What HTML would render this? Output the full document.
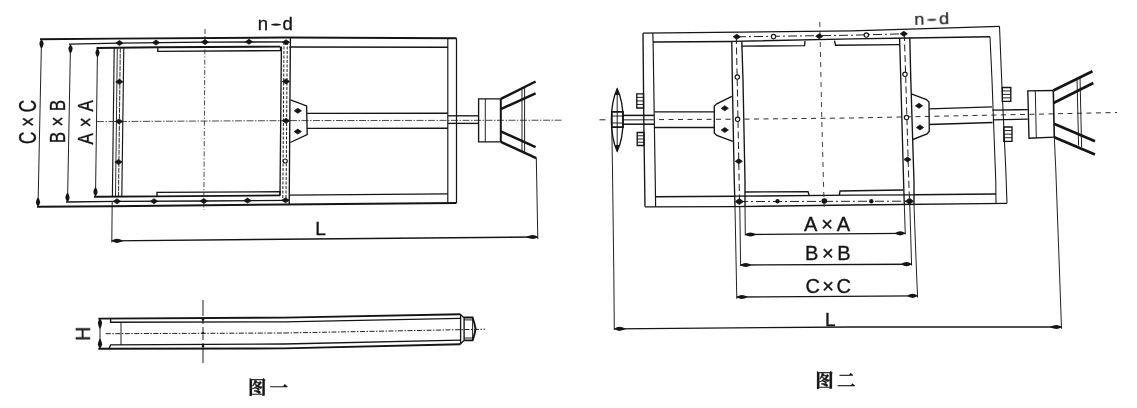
<!DOCTYPE html>
<html lang="zh"><head><meta charset="utf-8"><title>图一 图二</title>
<style>
html,body{margin:0;padding:0;background:#fff;}
body{width:1137px;height:408px;overflow:hidden;font-family:"Liberation Sans","Noto Sans CJK SC",sans-serif;}
svg{display:block;}
</style></head><body>
<svg width="1137" height="408" viewBox="0 0 1137 408">
<rect width="1137" height="408" fill="#fff"/>
<line x1="41.5" y1="39.3" x2="38" y2="206.7" stroke="#151515" stroke-width="0.95" stroke-linecap="butt"/>
<line x1="70.5" y1="44.3" x2="67.5" y2="202" stroke="#151515" stroke-width="0.95" stroke-linecap="butt"/>
<line x1="97.5" y1="48" x2="95.5" y2="196.6" stroke="#151515" stroke-width="0.95" stroke-linecap="butt"/>
<path d="M41.5,39.3 Q39.4,41.8 39.4,43.8 Q39.699999999999996,46.3 41.1,48.3 L41.9,48.3 Q43.300000000000004,46.3 43.6,43.8 Q43.6,41.8 41.5,39.3 Z" fill="#151515"/>
<path d="M38,206.7 Q35.9,204.2 35.9,202.2 Q36.199999999999996,199.7 37.6,197.7 L38.4,197.7 Q39.800000000000004,199.7 40.1,202.2 Q40.1,204.2 38,206.7 Z" fill="#151515"/>
<path d="M70.5,44.3 Q68.4,46.8 68.4,48.8 Q68.7,51.3 70.1,53.3 L70.9,53.3 Q72.3,51.3 72.6,48.8 Q72.6,46.8 70.5,44.3 Z" fill="#151515"/>
<path d="M67.5,202 Q65.4,199.5 65.4,197.5 Q65.7,195 67.1,193 L67.9,193 Q69.3,195 69.6,197.5 Q69.6,199.5 67.5,202 Z" fill="#151515"/>
<path d="M97.5,48 Q95.4,50.5 95.4,52.5 Q95.7,55 97.1,57 L97.9,57 Q99.3,55 99.6,52.5 Q99.6,50.5 97.5,48 Z" fill="#151515"/>
<path d="M95.5,196.6 Q93.4,194.1 93.4,192.1 Q93.7,189.6 95.1,187.6 L95.9,187.6 Q97.3,189.6 97.6,192.1 Q97.6,194.1 95.5,196.6 Z" fill="#151515"/>
<polyline points="40,39.3 114,38.6 284,37.5 456.5,38.2" fill="none" stroke="#151515" stroke-width="1.9" stroke-linejoin="miter"/>
<polyline points="69,44.2 119,43.1 205,42.2 289,41.8" fill="none" stroke="#151515" stroke-width="1.35" stroke-linejoin="miter"/>
<polyline points="96.5,48 157.8,47.3 280,46.6" fill="none" stroke="#151515" stroke-width="1.9" stroke-linejoin="miter"/>
<polyline points="157.8,47.3 157.8,51.3 280.5,50.6 280.5,46.6" fill="none" stroke="#151515" stroke-width="1.35" stroke-linejoin="miter"/>
<line x1="289.5" y1="47" x2="447.8" y2="47.2" stroke="#151515" stroke-width="1.35" stroke-linecap="butt"/>
<polyline points="37,206.7 112,206.2 284,204.5 456.5,203" fill="none" stroke="#151515" stroke-width="1.9" stroke-linejoin="miter"/>
<polyline points="66,202 117,201.3 204,201 289,200.3" fill="none" stroke="#151515" stroke-width="1.35" stroke-linejoin="miter"/>
<polyline points="94,196.7 157,196.4 280,195.4" fill="none" stroke="#151515" stroke-width="1.9" stroke-linejoin="miter"/>
<polyline points="157,196.4 157,192.3 280,191.8 280,195.4" fill="none" stroke="#151515" stroke-width="1.35" stroke-linejoin="miter"/>
<line x1="289.5" y1="195.2" x2="447.8" y2="193.8" stroke="#151515" stroke-width="1.35" stroke-linecap="butt"/>
<line x1="114.2" y1="47.8" x2="112.4" y2="196.6" stroke="#151515" stroke-width="1.15" stroke-linecap="butt"/>
<line x1="117.3" y1="47.8" x2="115.5" y2="196.6" stroke="#151515" stroke-width="0.9" stroke-linecap="butt"/>
<line x1="120.3" y1="47.8" x2="118.5" y2="196.6" stroke="#151515" stroke-width="0.9" stroke-dasharray="5 1" stroke-linecap="butt"/>
<line x1="123.8" y1="47.6" x2="121.8" y2="196.6" stroke="#151515" stroke-width="1.15" stroke-linecap="butt"/>
<line x1="281.4" y1="46.6" x2="280" y2="195.4" stroke="#151515" stroke-width="1.35" stroke-linecap="butt"/>
<line x1="284" y1="42" x2="282.8" y2="200.5" stroke="#151515" stroke-width="0.95" stroke-dasharray="3 1.5" stroke-linecap="butt"/>
<line x1="287.3" y1="42" x2="286" y2="200.5" stroke="#151515" stroke-width="0.95" stroke-dasharray="3 1.5" stroke-linecap="butt"/>
<line x1="290.4" y1="37.6" x2="289.2" y2="204.4" stroke="#151515" stroke-width="1.35" stroke-linecap="butt"/>
<line x1="447.8" y1="38.2" x2="447.8" y2="203.1" stroke="#151515" stroke-width="1.15" stroke-linecap="butt"/>
<line x1="456.5" y1="38.2" x2="456.5" y2="203" stroke="#151515" stroke-width="1.25" stroke-linecap="butt"/>
<line x1="205" y1="29" x2="203.8" y2="210" stroke="#2a2a2a" stroke-width="0.85" stroke-dasharray="5 2 1.2 2" stroke-linecap="butt"/>
<line x1="97" y1="121.6" x2="290" y2="120.6" stroke="#2a2a2a" stroke-width="0.85" stroke-dasharray="7 1.5 1.5 1.5" stroke-linecap="butt"/>
<line x1="290" y1="120.6" x2="563" y2="120.2" stroke="#2a2a2a" stroke-width="0.85" stroke-dasharray="7 1.5 1.5 1.5" stroke-linecap="butt"/>
<polygon points="115.9,43 119.5,40.5 123.1,43 119.5,45.5" fill="#151515" stroke="#151515" stroke-width="0.8" stroke-linejoin="round"/>
<polygon points="152.4,42.6 156,40.1 159.6,42.6 156,45.1" fill="#151515" stroke="#151515" stroke-width="0.8" stroke-linejoin="round"/>
<polygon points="201.4,42.1 205,39.6 208.6,42.1 205,44.6" fill="#151515" stroke="#151515" stroke-width="0.8" stroke-linejoin="round"/>
<polygon points="245.4,41.8 249,39.3 252.6,41.8 249,44.3" fill="#151515" stroke="#151515" stroke-width="0.8" stroke-linejoin="round"/>
<polygon points="282.4,42.3 286,39.8 289.6,42.3 286,44.8" fill="#151515" stroke="#151515" stroke-width="0.8" stroke-linejoin="round"/>
<polygon points="115.7,81.8 119.3,79.3 122.89999999999999,81.8 119.3,84.3" fill="#151515" stroke="#151515" stroke-width="0.8" stroke-linejoin="round"/>
<polygon points="115.4,121.4 119,118.9 122.6,121.4 119,123.9" fill="#151515" stroke="#151515" stroke-width="0.8" stroke-linejoin="round"/>
<polygon points="114.9,162 118.5,159.5 122.1,162 118.5,164.5" fill="#151515" stroke="#151515" stroke-width="0.8" stroke-linejoin="round"/>
<polygon points="113.4,201.3 117,198.8 120.6,201.3 117,203.8" fill="#151515" stroke="#151515" stroke-width="0.8" stroke-linejoin="round"/>
<polygon points="150.4,201.2 154,198.7 157.6,201.2 154,203.7" fill="#151515" stroke="#151515" stroke-width="0.8" stroke-linejoin="round"/>
<polygon points="200.20000000000002,201 203.8,198.5 207.4,201 203.8,203.5" fill="#151515" stroke="#151515" stroke-width="0.8" stroke-linejoin="round"/>
<polygon points="243.9,200.6 247.5,198.1 251.1,200.6 247.5,203.1" fill="#151515" stroke="#151515" stroke-width="0.8" stroke-linejoin="round"/>
<polygon points="281.9,200.3 285.5,197.8 289.1,200.3 285.5,202.8" fill="#151515" stroke="#151515" stroke-width="0.8" stroke-linejoin="round"/>
<polygon points="282.4,81.4 286,78.9 289.6,81.4 286,83.9" fill="#151515" stroke="#151515" stroke-width="0.8" stroke-linejoin="round"/>
<polygon points="282.4,120.8 286,118.3 289.6,120.8 286,123.3" fill="#151515" stroke="#151515" stroke-width="0.8" stroke-linejoin="round"/>
<polygon points="294.2,110.8 297.8,108.3 301.40000000000003,110.8 297.8,113.3" fill="#151515" stroke="#151515" stroke-width="0.8" stroke-linejoin="round"/>
<polygon points="294.2,131.6 297.8,129.1 301.40000000000003,131.6 297.8,134.1" fill="#151515" stroke="#151515" stroke-width="0.8" stroke-linejoin="round"/>
<circle cx="285.2" cy="161" r="2.0" fill="#fff" stroke="#151515" stroke-width="1.15"/>
<polyline points="290.4,99.8 306.6,105.9 307.2,134.6 290.2,142.5" fill="none" stroke="#151515" stroke-width="1.35" stroke-linejoin="miter"/>
<line x1="307" y1="113.4" x2="447.8" y2="113.2" stroke="#151515" stroke-width="1.35" stroke-linecap="butt"/>
<line x1="307" y1="128.4" x2="447.8" y2="128.2" stroke="#151515" stroke-width="1.35" stroke-linecap="butt"/>
<line x1="447.8" y1="115.8" x2="478.6" y2="115.8" stroke="#151515" stroke-width="1.35" stroke-linecap="butt"/>
<line x1="447.8" y1="123.4" x2="478.6" y2="123.4" stroke="#151515" stroke-width="1.35" stroke-linecap="butt"/>
<polyline points="500.8,98.9 478.6,98.9 478.6,141.8 500.8,141.8" fill="none" stroke="#151515" stroke-width="1.35" stroke-linejoin="miter"/>
<line x1="485.3" y1="98.9" x2="485.3" y2="141.8" stroke="#151515" stroke-width="0.95" stroke-linecap="butt"/>
<line x1="500.8" y1="98.9" x2="500.8" y2="141.8" stroke="#151515" stroke-width="2.0" stroke-linecap="butt"/>
<line x1="500.8" y1="98.9" x2="535.6" y2="81.5" stroke="#151515" stroke-width="2.5" stroke-linecap="butt"/>
<line x1="500.8" y1="109.2" x2="535.6" y2="93.3" stroke="#151515" stroke-width="2.5" stroke-linecap="butt"/>
<line x1="500.8" y1="131.3" x2="535.6" y2="147.2" stroke="#151515" stroke-width="2.5" stroke-linecap="butt"/>
<line x1="500.8" y1="141.8" x2="536.2" y2="158.2" stroke="#151515" stroke-width="2.5" stroke-linecap="butt"/>
<line x1="522" y1="88.4" x2="522" y2="150.9" stroke="#151515" stroke-width="0.95" stroke-linecap="butt"/>
<line x1="524.6" y1="87.2" x2="524.6" y2="152" stroke="#151515" stroke-width="0.95" stroke-linecap="butt"/>
<line x1="112.2" y1="201.5" x2="111.8" y2="242.5" stroke="#151515" stroke-width="0.95" stroke-linecap="butt"/>
<line x1="536.3" y1="158" x2="537.8" y2="239" stroke="#151515" stroke-width="0.95" stroke-linecap="butt"/>
<line x1="111.8" y1="240.8" x2="537.8" y2="237" stroke="#151515" stroke-width="1.35" stroke-linecap="butt"/>
<path d="M111.8,240.8 Q114.3,238.70000000000002 116.8,238.70000000000002 Q119.8,239.00000000000003 122.8,240.4 L122.8,241.20000000000002 Q119.8,242.6 116.8,242.9 Q114.3,242.9 111.8,240.8 Z" fill="#151515"/>
<path d="M537.8,237 Q535.3,234.9 532.8,234.9 Q529.8,235.20000000000002 526.8,236.6 L526.8,237.4 Q529.8,238.79999999999998 532.8,239.1 Q535.3,239.1 537.8,237 Z" fill="#151515"/>
<polyline points="98.3,318.6 284,317.6 460.3,314.2" fill="none" stroke="#151515" stroke-width="1.9" stroke-linejoin="miter"/>
<polyline points="98.3,348.8 284,348.4 460.3,344.2" fill="none" stroke="#151515" stroke-width="1.9" stroke-linejoin="miter"/>
<polyline points="110.6,318.6 110.6,322.2 284,321.8 460.3,318.4" fill="none" stroke="#151515" stroke-width="1.35" stroke-linejoin="miter"/>
<polyline points="109,348.8 110.6,344.9 284,344 460.3,340.2" fill="none" stroke="#151515" stroke-width="1.35" stroke-linejoin="miter"/>
<line x1="121" y1="322.2" x2="121" y2="344.9" stroke="#151515" stroke-width="0.95" stroke-linecap="butt"/>
<line x1="100" y1="318.6" x2="100" y2="348.8" stroke="#151515" stroke-width="0.95" stroke-linecap="butt"/>
<path d="M100,318.6 Q97.9,321.1 97.9,323.1 Q98.2,325.6 99.6,328.6 L100.4,328.6 Q101.8,325.6 102.1,323.1 Q102.1,321.1 100,318.6 Z" fill="#151515"/>
<path d="M100,348.8 Q97.9,346.3 97.9,344.3 Q98.2,341.8 99.6,338.8 L100.4,338.8 Q101.8,341.8 102.1,344.3 Q102.1,346.3 100,348.8 Z" fill="#151515"/>
<line x1="105.8" y1="333.7" x2="284" y2="333" stroke="#151515" stroke-width="0.95" stroke-dasharray="5 1.5 1.5 1.5" stroke-linecap="butt"/>
<line x1="284" y1="333" x2="485" y2="329.2" stroke="#151515" stroke-width="0.95" stroke-dasharray="5 1.5 1.5 1.5" stroke-linecap="butt"/>
<line x1="203" y1="300" x2="203" y2="363" stroke="#151515" stroke-width="0.95" stroke-dasharray="16 3 5 3 5 3 5 3 99" stroke-linecap="butt"/>
<circle cx="203" cy="319.5" r="1.3" fill="#151515"/>
<circle cx="203" cy="333.2" r="1.3" fill="#151515"/>
<circle cx="203" cy="346" r="1.3" fill="#151515"/>
<polyline points="460,314.2 464.1,317.8 464.1,340.4 460,344.2" fill="none" stroke="#151515" stroke-width="1.35" stroke-linejoin="miter"/>
<line x1="460.6" y1="314.2" x2="460.6" y2="344.2" stroke="#151515" stroke-width="1.35" stroke-linecap="butt"/>
<path d="M464.1,317.5 L472.6,317.5 Q474.6,323 475.6,329 Q474.6,335 472.6,340.4 L464.1,340.4" fill="none" stroke="#151515" stroke-width="1.9"/>
<line x1="464.1" y1="319.9" x2="472.9" y2="319.9" stroke="#151515" stroke-width="0.95" stroke-linecap="butt"/>
<line x1="464.1" y1="338" x2="472.9" y2="338" stroke="#151515" stroke-width="0.95" stroke-linecap="butt"/>
<line x1="472.6" y1="317.5" x2="472.6" y2="340.4" stroke="#151515" stroke-width="0.95" stroke-linecap="butt"/>
<polyline points="643,33.2 852,30.8 999.5,26.3" fill="none" stroke="#151515" stroke-width="1.3" stroke-linejoin="miter"/>
<polyline points="999.5,26.3 1002,88 1005.8,170 1007,203.3" fill="none" stroke="#151515" stroke-width="1.05" stroke-linejoin="miter"/>
<polyline points="643,33.2 643.8,120 645,206.8" fill="none" stroke="#151515" stroke-width="1.35" stroke-linejoin="miter"/>
<polyline points="645,206.8 735,206.6 852,205 1007,203.3" fill="none" stroke="#151515" stroke-width="1.35" stroke-linejoin="miter"/>
<polyline points="653,42 732,41.4" fill="none" stroke="#151515" stroke-width="1.5" stroke-linejoin="miter"/>
<polyline points="652.8,33.1 653.1,42 654.3,120 655.5,196.5 655.6,206.7" fill="none" stroke="#151515" stroke-width="1.15" stroke-linejoin="miter"/>
<polyline points="655.5,196.7 735,196.3" fill="none" stroke="#151515" stroke-width="1.6" stroke-linejoin="miter"/>
<polyline points="910,38 990,36.7" fill="none" stroke="#151515" stroke-width="1.5" stroke-linejoin="miter"/>
<polyline points="990,36.7 992,80 995.8,182 996,203.5" fill="none" stroke="#151515" stroke-width="1.05" stroke-linejoin="miter"/>
<polyline points="913.5,194.8 996,193.9" fill="none" stroke="#151515" stroke-width="1.5" stroke-linejoin="miter"/>
<polyline points="732,41.4 852,38.8 910,38" fill="none" stroke="#151515" stroke-width="1.35" stroke-linejoin="miter"/>
<polyline points="735,196.2 852,195.2 913.5,194.8" fill="none" stroke="#151515" stroke-width="1.35" stroke-linejoin="miter"/>
<polyline points="737,36.8 852,35.2 904,33.8" fill="none" stroke="#151515" stroke-width="0.95" stroke-dasharray="9 3 2 3" stroke-linejoin="miter"/>
<polyline points="739,201.6 852,201.3 909.5,201.2" fill="none" stroke="#151515" stroke-width="0.95" stroke-dasharray="9 3 2 3" stroke-linejoin="miter"/>
<polyline points="741.6,46.2 804.5,45.6 805,41" fill="none" stroke="#151515" stroke-width="1.35" stroke-linejoin="miter"/>
<polyline points="834.5,40.6 835.5,45.2 899.8,44.6" fill="none" stroke="#151515" stroke-width="1.35" stroke-linejoin="miter"/>
<polyline points="744.8,192 808,191.6 809.3,195.8" fill="none" stroke="#151515" stroke-width="1.35" stroke-linejoin="miter"/>
<polyline points="839.3,195.4 840,191 903,190" fill="none" stroke="#151515" stroke-width="1.35" stroke-linejoin="miter"/>
<polyline points="731.8,41.4 732.3,80 734.3,182 735,206.6" fill="none" stroke="#151515" stroke-width="1.35" stroke-linejoin="miter"/>
<polyline points="741.8,41.2 743,80 745,182 745,206" fill="none" stroke="#151515" stroke-width="1.35" stroke-linejoin="miter"/>
<polyline points="736.3,37 738,120 739.5,201" fill="none" stroke="#151515" stroke-width="0.95" stroke-dasharray="7 3.5" stroke-linejoin="miter"/>
<polyline points="899.6,38.2 900.8,80 903.6,182 904.3,205" fill="none" stroke="#151515" stroke-width="1.35" stroke-linejoin="miter"/>
<polyline points="909.8,38 910.8,80 914,182 914,205" fill="none" stroke="#151515" stroke-width="1.35" stroke-linejoin="miter"/>
<polyline points="904.3,34 905.8,80 908.8,182 909.5,201" fill="none" stroke="#151515" stroke-width="0.95" stroke-dasharray="7 3.5" stroke-linejoin="miter"/>
<polyline points="819.8,22 821.8,120 824.3,212" fill="none" stroke="#2a2a2a" stroke-width="0.9" stroke-dasharray="5 5" stroke-linejoin="miter"/>
<line x1="599.5" y1="119.8" x2="605.5" y2="119.8" stroke="#151515" stroke-width="0.95" stroke-linecap="butt"/>
<line x1="623" y1="119.9" x2="654" y2="119.8" stroke="#151515" stroke-width="0.95" stroke-linecap="butt"/>
<polyline points="659,119.6 738,119.2 852,118 1117,112.5" fill="none" stroke="#222" stroke-width="0.95" stroke-dasharray="5 4.5" stroke-linejoin="miter"/>
<polygon points="733.1999999999999,36.8 736.8,34.3 740.4,36.8 736.8,39.3" fill="#151515" stroke="#151515" stroke-width="0.8" stroke-linejoin="round"/>
<polygon points="815.6999999999999,36.2 819.3,33.7 822.9,36.2 819.3,38.7" fill="#151515" stroke="#151515" stroke-width="0.8" stroke-linejoin="round"/>
<polygon points="900.1999999999999,33.8 903.8,31.299999999999997 907.4,33.8 903.8,36.3" fill="#151515" stroke="#151515" stroke-width="0.8" stroke-linejoin="round"/>
<polygon points="735.1999999999999,161.3 738.8,158.8 742.4,161.3 738.8,163.8" fill="#151515" stroke="#151515" stroke-width="0.8" stroke-linejoin="round"/>
<polygon points="903.9,159.5 907.5,157.0 911.1,159.5 907.5,162.0" fill="#151515" stroke="#151515" stroke-width="0.8" stroke-linejoin="round"/>
<polygon points="721.1999999999999,108.3 724.8,105.8 728.4,108.3 724.8,110.8" fill="#151515" stroke="#151515" stroke-width="0.8" stroke-linejoin="round"/>
<polygon points="721.1999999999999,130 724.8,127.5 728.4,130 724.8,132.5" fill="#151515" stroke="#151515" stroke-width="0.8" stroke-linejoin="round"/>
<polygon points="915.4,105.8 919,103.3 922.6,105.8 919,108.3" fill="#151515" stroke="#151515" stroke-width="0.8" stroke-linejoin="round"/>
<polygon points="916.4,127.5 920,125.0 923.6,127.5 920,130.0" fill="#151515" stroke="#151515" stroke-width="0.8" stroke-linejoin="round"/>
<polygon points="735.1999999999999,201.6 739.3,198.6 743.4,201.6 739.3,204.6" fill="#151515" stroke="#151515" stroke-width="0.8" stroke-linejoin="round"/>
<polygon points="905.4,201.2 909.5,198.2 913.6,201.2 909.5,204.2" fill="#151515" stroke="#151515" stroke-width="0.8" stroke-linejoin="round"/>
<circle cx="824.3" cy="201" r="2.8" fill="#151515"/>
<circle cx="777.5" cy="201.3" r="2.2" fill="#151515"/>
<circle cx="871.3" cy="201.2" r="2.2" fill="#151515"/>
<circle cx="773.5" cy="36.6" r="2.2" fill="#fff" stroke="#151515" stroke-width="1.15"/>
<circle cx="866.3" cy="35" r="2.2" fill="#fff" stroke="#151515" stroke-width="1.15"/>
<circle cx="737.3" cy="77" r="2.2" fill="#fff" stroke="#151515" stroke-width="1.15"/>
<circle cx="905" cy="74.3" r="2.2" fill="#fff" stroke="#151515" stroke-width="1.15"/>
<circle cx="737.6" cy="119.3" r="2.2" fill="#fff" stroke="#151515" stroke-width="1.15"/>
<circle cx="906.5" cy="117.5" r="2.2" fill="#fff" stroke="#151515" stroke-width="1.15"/>
<polyline points="731.8,96.3 716.8,103.8 714.3,106 714.3,133 716.8,135.5 732.8,141.3" fill="none" stroke="#151515" stroke-width="1.35" stroke-linejoin="miter"/>
<polyline points="911.3,93.8 926.5,99.5 929,102 929.3,131.3 927,134 912.8,139.5" fill="none" stroke="#151515" stroke-width="1.35" stroke-linejoin="miter"/>
<line x1="654.3" y1="111.8" x2="714.3" y2="111.8" stroke="#151515" stroke-width="1.35" stroke-linecap="butt"/>
<line x1="654.3" y1="127.5" x2="714.3" y2="127.5" stroke="#151515" stroke-width="1.35" stroke-linecap="butt"/>
<line x1="929" y1="108.8" x2="992" y2="106.8" stroke="#151515" stroke-width="1.35" stroke-linecap="butt"/>
<line x1="929" y1="124.5" x2="992.6" y2="122.5" stroke="#151515" stroke-width="1.35" stroke-linecap="butt"/>
<line x1="623" y1="115.4" x2="654" y2="115.4" stroke="#151515" stroke-width="1.5" stroke-linecap="butt"/>
<line x1="623" y1="124.2" x2="654" y2="124.2" stroke="#151515" stroke-width="1.5" stroke-linecap="butt"/>
<line x1="992.3" y1="110.2" x2="1027.8" y2="109.6" stroke="#151515" stroke-width="1.35" stroke-linecap="butt"/>
<line x1="992.8" y1="119.8" x2="1027.8" y2="119.2" stroke="#151515" stroke-width="1.35" stroke-linecap="butt"/>
<path d="M617.2,88.8 C609.5,105 609.5,135 617.2,151.3 C625,135 625,105 617.2,88.8 Z" fill="none" stroke="#151515" stroke-width="1.35"/>
<path d="M617.2,88.8 L615.2,95 L619.2,95 Z M617.2,151.3 L615.2,145 L619.2,145 Z" fill="#151515"/>
<line x1="617.2" y1="88.8" x2="617.2" y2="151.3" stroke="#151515" stroke-width="0.95" stroke-linecap="butt"/>
<polygon points="611.8,111.8 623,111.8 623,127.2 611.8,127.2" fill="none" stroke="#151515" stroke-width="1.7" stroke-linejoin="miter"/>
<line x1="611.8" y1="116" x2="623" y2="116" stroke="#151515" stroke-width="0.95" stroke-linecap="butt"/>
<line x1="611.8" y1="123" x2="623" y2="123" stroke="#151515" stroke-width="0.95" stroke-linecap="butt"/>
<polygon points="636.8,93.8 643.5,93.8 643.5,108 636.8,108" fill="none" stroke="#151515" stroke-width="1.35" stroke-linejoin="miter"/>
<line x1="636.8" y1="97.35" x2="643.5" y2="97.35" stroke="#151515" stroke-width="0.95" stroke-linecap="butt"/>
<line x1="636.8" y1="100.9" x2="643.5" y2="100.9" stroke="#151515" stroke-width="0.95" stroke-linecap="butt"/>
<line x1="636.8" y1="104.45" x2="643.5" y2="104.45" stroke="#151515" stroke-width="0.95" stroke-linecap="butt"/>
<polygon points="637.2,132.5 644,132.5 644,145.5 637.2,145.5" fill="none" stroke="#151515" stroke-width="1.35" stroke-linejoin="miter"/>
<line x1="637.2" y1="135.75" x2="644" y2="135.75" stroke="#151515" stroke-width="0.95" stroke-linecap="butt"/>
<line x1="637.2" y1="139.0" x2="644" y2="139.0" stroke="#151515" stroke-width="0.95" stroke-linecap="butt"/>
<line x1="637.2" y1="142.25" x2="644" y2="142.25" stroke="#151515" stroke-width="0.95" stroke-linecap="butt"/>
<polygon points="1002.3,87.5 1010.8,87.5 1010.8,101.3 1002.3,101.3" fill="none" stroke="#151515" stroke-width="1.35" stroke-linejoin="miter"/>
<line x1="1002.3" y1="90.95" x2="1010.8" y2="90.95" stroke="#151515" stroke-width="0.95" stroke-linecap="butt"/>
<line x1="1002.3" y1="94.4" x2="1010.8" y2="94.4" stroke="#151515" stroke-width="0.95" stroke-linecap="butt"/>
<line x1="1002.3" y1="97.85" x2="1010.8" y2="97.85" stroke="#151515" stroke-width="0.95" stroke-linecap="butt"/>
<polygon points="1003.8,127 1012,127 1012,141.3 1003.8,141.3" fill="none" stroke="#151515" stroke-width="1.35" stroke-linejoin="miter"/>
<line x1="1003.8" y1="130.575" x2="1012" y2="130.575" stroke="#151515" stroke-width="0.95" stroke-linecap="butt"/>
<line x1="1003.8" y1="134.15" x2="1012" y2="134.15" stroke="#151515" stroke-width="0.95" stroke-linecap="butt"/>
<line x1="1003.8" y1="137.72500000000002" x2="1012" y2="137.72500000000002" stroke="#151515" stroke-width="0.95" stroke-linecap="butt"/>
<polyline points="1053.3,90.5 1027.8,90.8 1029,138.2 1054.3,137.2" fill="none" stroke="#151515" stroke-width="1.35" stroke-linejoin="miter"/>
<line x1="1035.3" y1="90.8" x2="1036.3" y2="138" stroke="#151515" stroke-width="0.95" stroke-linecap="butt"/>
<line x1="1053.3" y1="90.5" x2="1054.3" y2="137.2" stroke="#151515" stroke-width="1.6" stroke-linecap="butt"/>
<line x1="1053.3" y1="90.5" x2="1092.5" y2="71.3" stroke="#151515" stroke-width="2.7" stroke-linecap="butt"/>
<line x1="1053.5" y1="103" x2="1093.3" y2="83" stroke="#151515" stroke-width="2.7" stroke-linecap="butt"/>
<line x1="1054" y1="123.8" x2="1095" y2="141.3" stroke="#151515" stroke-width="2.7" stroke-linecap="butt"/>
<line x1="1054.3" y1="137.2" x2="1095" y2="154.5" stroke="#151515" stroke-width="2.7" stroke-linecap="butt"/>
<line x1="1077" y1="78.5" x2="1078.6" y2="145.5" stroke="#151515" stroke-width="0.95" stroke-linecap="butt"/>
<line x1="1080" y1="77" x2="1081.6" y2="147" stroke="#151515" stroke-width="0.95" stroke-linecap="butt"/>
<polyline points="611.8,127.5 612.5,170 613.8,272 614.3,330" fill="none" stroke="#151515" stroke-width="0.95" stroke-linejoin="miter"/>
<polyline points="1054.3,137.2 1055.8,170 1059.5,272 1061.5,328.8" fill="none" stroke="#151515" stroke-width="0.95" stroke-linejoin="miter"/>
<line x1="614.3" y1="328.8" x2="852" y2="327" stroke="#151515" stroke-width="1.35" stroke-linecap="butt"/>
<line x1="852" y1="327" x2="1061.5" y2="327" stroke="#151515" stroke-width="1.35" stroke-linecap="butt"/>
<path d="M614.3,328.8 Q616.8,326.7 619.3,326.7 Q622.3,327.0 625.3,328.40000000000003 L625.3,329.2 Q622.3,330.6 619.3,330.90000000000003 Q616.8,330.90000000000003 614.3,328.8 Z" fill="#151515"/>
<path d="M1061.5,327 Q1059.0,324.9 1056.5,324.9 Q1053.5,325.2 1050.5,326.6 L1050.5,327.4 Q1053.5,328.8 1056.5,329.1 Q1059.0,329.1 1061.5,327 Z" fill="#151515"/>
<polyline points="745,206 745.3,235.5" fill="none" stroke="#151515" stroke-width="0.95" stroke-linejoin="miter"/>
<polyline points="904.3,205 905.3,234.5" fill="none" stroke="#151515" stroke-width="0.95" stroke-linejoin="miter"/>
<line x1="745.3" y1="234.5" x2="905.3" y2="233.3" stroke="#151515" stroke-width="1.35" stroke-linecap="butt"/>
<path d="M745.3,234.5 Q747.8,232.4 750.3,232.4 Q753.3,232.70000000000002 755.3,234.1 L755.3,234.9 Q753.3,236.29999999999998 750.3,236.6 Q747.8,236.6 745.3,234.5 Z" fill="#151515"/>
<path d="M905.3,233.3 Q902.8,231.20000000000002 900.3,231.20000000000002 Q897.3,231.50000000000003 895.3,232.9 L895.3,233.70000000000002 Q897.3,235.1 900.3,235.4 Q902.8,235.4 905.3,233.3 Z" fill="#151515"/>
<polyline points="739.8,206 740.6,266" fill="none" stroke="#151515" stroke-width="0.95" stroke-linejoin="miter"/>
<polyline points="909.8,205 911.6,265.5" fill="none" stroke="#151515" stroke-width="0.95" stroke-linejoin="miter"/>
<line x1="740.6" y1="265" x2="911.6" y2="264.2" stroke="#151515" stroke-width="1.35" stroke-linecap="butt"/>
<path d="M740.6,265 Q743.1,262.9 745.6,262.9 Q748.6,263.2 750.6,264.6 L750.6,265.4 Q748.6,266.8 745.6,267.1 Q743.1,267.1 740.6,265 Z" fill="#151515"/>
<path d="M911.6,264.2 Q909.1,262.09999999999997 906.6,262.09999999999997 Q903.6,262.4 901.6,263.8 L901.6,264.59999999999997 Q903.6,266.0 906.6,266.3 Q909.1,266.3 911.6,264.2 Z" fill="#151515"/>
<polyline points="735,206.6 736.8,298.8" fill="none" stroke="#151515" stroke-width="0.95" stroke-linejoin="miter"/>
<polyline points="914,205 916.5,272 917.6,297.5" fill="none" stroke="#151515" stroke-width="0.95" stroke-linejoin="miter"/>
<line x1="736.8" y1="297" x2="917.6" y2="295.8" stroke="#151515" stroke-width="1.35" stroke-linecap="butt"/>
<path d="M736.8,297 Q739.3,294.9 741.8,294.9 Q744.8,295.2 746.8,296.6 L746.8,297.4 Q744.8,298.8 741.8,299.1 Q739.3,299.1 736.8,297 Z" fill="#151515"/>
<path d="M917.6,295.8 Q915.1,293.7 912.6,293.7 Q909.6,294.0 907.6,295.40000000000003 L907.6,296.2 Q909.6,297.6 912.6,297.90000000000003 Q915.1,297.90000000000003 917.6,295.8 Z" fill="#151515"/>
<g opacity="0.999">
<g transform="translate(257.7 29.7) rotate(0) scale(1 1)"><text x="0 15.2 24.7" y="0" font-family="&quot;Liberation Sans&quot;, sans-serif" font-size="18.5" fill="#151515" stroke="#151515" stroke-width="0.35">n-d</text><line x1="13.7" y1="-5.0875" x2="23.0" y2="-5.0875" stroke="#151515" stroke-width="1.4"/></g>
<g transform="translate(914.5 25) rotate(-1.5) scale(1.06 1)"><text x="0 13.6 23.4" y="0" font-family="&quot;Liberation Sans&quot;, sans-serif" font-size="17.2" fill="#151515" stroke="#151515" stroke-width="0.15">n-d</text><line x1="12.4" y1="-4.73" x2="20.6" y2="-4.73" stroke="#151515" stroke-width="1.3"/></g>
<text x="0" y="0" font-family="&quot;Liberation Sans&quot;, sans-serif" font-size="20" font-weight="normal" letter-spacing="5.6" text-anchor="start" fill="#151515" stroke="#151515" stroke-width="0.35" transform="translate(35.7 143.9) rotate(-90) scale(0.85 1.15)">C×C</text>
<text x="0" y="0" font-family="&quot;Liberation Sans&quot;, sans-serif" font-size="20" font-weight="normal" letter-spacing="6.3" text-anchor="start" fill="#151515" stroke="#151515" stroke-width="0.35" transform="translate(64.7 143.2) rotate(-90) scale(0.85 1.13)">B×B</text>
<text x="0" y="0" font-family="&quot;Liberation Sans&quot;, sans-serif" font-size="20" font-weight="normal" letter-spacing="7" text-anchor="start" fill="#151515" stroke="#151515" stroke-width="0.35" transform="translate(93 144.6) rotate(-90) scale(0.85 1.1)">A×A</text>
<text x="0" y="0" font-family="&quot;Liberation Sans&quot;, sans-serif" font-size="19.5" font-weight="normal" letter-spacing="0" text-anchor="start" fill="#151515" stroke="#151515" stroke-width="0.35" transform="translate(89.9 340.8) rotate(-90) scale(1 1)">H</text>
<text x="0" y="0" font-family="&quot;Liberation Sans&quot;, sans-serif" font-size="19" font-weight="normal" letter-spacing="0" text-anchor="start" fill="#151515" stroke="#151515" stroke-width="0.35" transform="translate(315.3 234.5) rotate(0) scale(1 1)">L</text>
<text x="0" y="0" font-family="&quot;Liberation Sans&quot;, sans-serif" font-size="20" font-weight="normal" letter-spacing="3.9" text-anchor="start" fill="#151515" stroke="#151515" stroke-width="0.35" transform="translate(804 231.3) rotate(0) scale(1 1)">A×A</text>
<text x="0" y="0" font-family="&quot;Liberation Sans&quot;, sans-serif" font-size="20" font-weight="normal" letter-spacing="3.6" text-anchor="start" fill="#151515" stroke="#151515" stroke-width="0.35" transform="translate(805 260) rotate(0) scale(1 1)">B×B</text>
<text x="0" y="0" font-family="&quot;Liberation Sans&quot;, sans-serif" font-size="20" font-weight="normal" letter-spacing="2.4" text-anchor="start" fill="#151515" stroke="#151515" stroke-width="0.35" transform="translate(805.5 293.3) rotate(0) scale(1 1)">C×C</text>
<text x="0" y="0" font-family="&quot;Liberation Sans&quot;, sans-serif" font-size="19" font-weight="normal" letter-spacing="0" text-anchor="start" fill="#151515" stroke="#151515" stroke-width="0.35" transform="translate(825 325.5) rotate(0) scale(1 1)">L</text>
<text x="0" y="0" font-family="&quot;Liberation Serif&quot;, &quot;Noto Serif CJK SC&quot;, serif" font-size="18" font-weight="bold" letter-spacing="3" text-anchor="start" fill="#151515" stroke="#151515" stroke-width="0.3" transform="translate(248 393.9) rotate(0) scale(1.03 1)">图一</text>
<text x="0" y="0" font-family="&quot;Liberation Serif&quot;, &quot;Noto Serif CJK SC&quot;, serif" font-size="18" font-weight="bold" letter-spacing="3" text-anchor="start" fill="#151515" stroke="#151515" stroke-width="0.3" transform="translate(815.3 387.1) rotate(0) scale(1.03 1)">图二</text>
</g>
</svg>
</body></html>
